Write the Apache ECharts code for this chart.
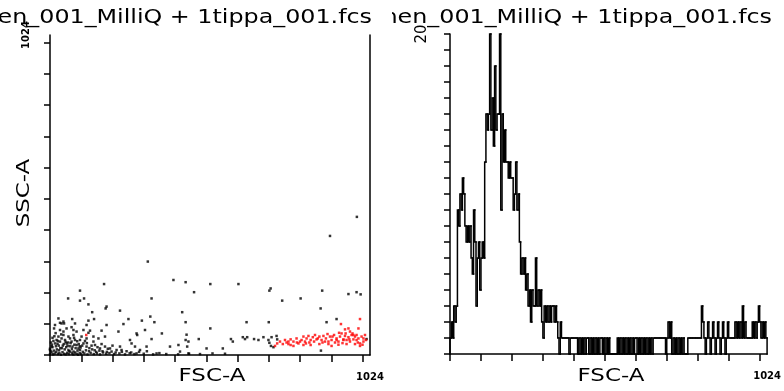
<!DOCTYPE html>
<html><head><meta charset="utf-8">
<script src="https://cdn.jsdelivr.net/npm/echarts@6/dist/echarts.min.js"></script>
<style>html,body{margin:0;padding:0;background:#fff;overflow:hidden}
#wrap{width:784px;height:391px;display:flex}
#dot,#hist{width:392px;height:391px;overflow:hidden}</style>
</head><body><div id="wrap"><div id="dot"></div><div id="hist"></div></div>
<script>
const fileName = 'Specimen_001_MilliQ + 1tippa_001.fcs';
const xAxisName = 'FSC-A';
const yAxisName = 'SSC-A';
const channelMax = 1024;
const channelTicks = [0,100,200,300,400,500,600,700,800,900,1000];
const channelLabels = [1024];
const countMax = 20;
const countTicks = [0,1,2,3,4,5,6,7,8,9,10,11,12,13,14,15,16,17,18,19,20];
const countLabels = [20];

// histogram of FSC-A, 256 bins over 0..1024
const histCounts = [
1,2,1,3,2,3,
9,8,10,9,11,10,8,
7,8,7,8,6,5,
9,7,3,6,7,4,6,7,6,
12,15,14,15,20,14,
16,13,18,14,15,15,20,9,
15,12,14,12,
12,11,12,11,
11,9,10,12,9,10,
7,5,6,5,6,4,5,
3,4,2,4,3,3,6,
3,4,3,4,
2,1,3,2,3,
2,3,2,3,3,2,3,2,
1,0,2,1,
1,1,1,1,1,0,1,1,1,1,1,1,0,
1,0,1,0,1,0,1,1,0,1,0,1,0,1,0,1,0,1,1,0,1,0,1,0,1,0,
0,0,0,0,0,
1,0,1,0,1,0,1,0,1,0,1,0,1,0,1,1,0,1,0,1,0,1,0,1,0,1,0,1,0,
1,1,1,1,1,1,1,1,1,1,
0,1,
2,1,2,
0,1,0,1,0,1,0,1,0,1,0,
0,0,
1,1,1,1,1,1,1,1,1,1,1,
3,
2,1,0,1,2,1,
0,1,
2,
1,0,1,2,1,0,1,2,1,0,
1,2,
1,1,1,1,1,
2,1,2,1,2,1,3,1,2,1,
1,1,1,1,2,1,
2,1,2,3,2,
1,2,1,2,1
];

// FSC-A / SSC-A events outside the gate (black)
const blackEvents = [
[982,442],[896,381],[313,299],[395,240],[434,233],[513,227],[603,227],[173,227],[96,206],[461,201],[706,213],[702,206],[871,206],[955,195],[981,201],[994,194],[58,181],[96,174],[109,181],[123,162],[135,137],[141,115],[123,110],[181,155],[178,149],[224,142],[251,115],[235,99],[325,181],[321,123],[294,110],[334,105],[423,137],[434,105],[513,85],[743,174],[802,181],[866,149],[885,105],[917,115],[629,105],[700,105],[27,117],[13,85],[37,101],[45,101],[71,115],[165,78],[128,78],[181,96],[219,75],[277,69],[279,64],[304,80],[325,51],[358,69],[437,65],[434,48],[443,43],[476,51],[384,27],[411,32],[439,27],[501,21],[553,21],[579,51],[585,43],[617,57],[624,51],[631,57],[653,51],[667,48],[683,57],[699,48],[702,39],[707,29],[715,25],[709,57],[725,61],[727,50],[416,11],[443,5],[867,14],[1013,51],[277,5],[341,5],
[0,16],[5,27],[16,37],[21,48],[27,59],[32,43],[37,53],[43,64],[48,48],[53,37],[59,59],[64,53],[69,43],[75,64],[80,48],[85,32],[91,21],[96,48],[101,59],[107,37],[32,80],[43,75],[53,85],[69,89],[75,80],[85,75],[59,16],[75,11],[96,16],[117,27],[117,53],[139,43],[144,32],[155,53],[160,21],[176,27],[192,21],[197,11],[213,16],[224,27],[229,16],[256,48],[261,37],[272,27],[288,16],[309,27],[16,96],[32,103],[43,107],[80,101],[117,96],[107,80],[123,71],[139,59],[176,59],
[0,3],[5,8],[10,2],[15,5],[20,10],[25,3],[30,6],[35,1],[40,9],[45,4],[50,2],[55,7],[60,3],[65,11],[70,5],[75,2],[80,8],[85,4],[90,1],[95,6],[100,3],[110,5],[120,2],[130,7],[140,3],[150,5],[160,2],[170,8],[180,4],[190,6],[205,3],[222,5],[240,2],[255,6],[270,3],[300,4],[330,2],[350,6],[372,3],[410,2],[445,4],[480,3],[520,5],[560,4],[0,20],[8,25],[12,14],[22,18],[28,30],[3,40],[8,55],[18,70],[25,45],[38,22],[44,35],[52,25],[58,40],[63,28],[70,20],[78,33],[88,14],[95,28],[105,10],[115,15],[125,12],[135,18],[148,10],[158,14],[168,12],[182,10],
[2,12],[6,33],[11,45],[14,60],[19,28],[24,36],[29,15],[33,22],[36,66],[41,30],[47,18],[50,42],[56,30],[61,12],[66,38],[72,27],[77,55],[82,22],[87,44],[92,35],[98,24],[103,30],[112,45],[118,38],[126,22],[133,30],[143,15],[152,25],[165,35],[185,20],[200,30],[210,8],[230,10],[245,12],[260,8],[285,10],[310,12]
];

// events inside the gate (red)
const redEvents = [
[720,29],[727,37],[736,43],[752,48],[763,35],[770,50],[779,43],[789,53],[795,37],[805,48],[811,59],[816,43],[821,53],[827,61],[834,48],[841,57],[848,64],[853,50],[862,59],[869,48],[875,61],[883,53],[891,43],[896,59],[901,48],[909,64],[917,53],[923,43],[928,59],[933,69],[939,50],[944,61],[949,48],[955,57],[960,43],[965,64],[971,50],[976,59],[981,48],[987,53],[992,37],[997,59],[1003,43],[1008,64],[1011,48],[891,35],[901,29],[923,33],[949,35],[976,35],[992,29],[779,29],[811,32],[834,32],[862,35],[960,75],[944,82],[992,115],[931,99],[955,85],[987,85],[971,64],[939,48],[917,48],[763,43],[745,35],[770,32],[800,43],[819,37],[845,43],[880,43],[888,67],[904,59],[925,71],[946,69],[968,69],[981,64],[1003,53],[857,53],[872,40],[912,40],[936,38],[958,50],[985,40],[1000,33],[830,40],[790,40],[757,40],[116,64]
];

// one item per bin: [start, end, count, previous bin's count]
const binWidth = channelMax / histCounts.length;
const histBins = histCounts.map((c, i) => [i * binWidth, (i + 1) * binWidth, c, i === 0 ? 0 : histCounts[i - 1]]);
histBins.push([channelMax, channelMax, 0, histCounts[histCounts.length - 1]]);

const font = 'DejaVu Sans';
const axisLineStyle = { color: '#000', width: 1.5 };
const plain = v => String(v);
function chanX() {
  return {
    type: 'value', min: 0, max: channelMax,
    axisLine: { show: true, onZero: false, lineStyle: axisLineStyle },
    axisTick: { show: true, customValues: channelTicks, length: 7, lineStyle: axisLineStyle },
    axisLabel: { show: true, customValues: channelLabels, formatter: plain, margin: 17, fontSize: 10, fontWeight: 'bold', color: '#000', fontFamily: font },
    splitLine: { show: false }
  };
}
function titleText(xRight) {
  return { type: 'text', x: xRight, y: 28, scaleX: 1.19, style: { text: fileName, fontSize: 20, fontFamily: font, fill: '#000', textAlign: 'right', textVerticalAlign: 'bottom' } };
}
function xName(xc) {
  return { type: 'text', x: xc, y: 377, scaleX: 1.35, style: { text: xAxisName, fontSize: 17, fontFamily: font, fill: '#000', textAlign: 'center', textVerticalAlign: 'middle' } };
}

const dot = echarts.init(document.getElementById('dot'), null, { renderer: 'canvas' });
dot.setOption({
  animation: false,
  backgroundColor: '#fff',
  grid: { left: 50, top: 35, width: 320, height: 320 },
  xAxis: chanX(),
  yAxis: [
    {
      type: 'value', min: 0, max: channelMax,
      axisLine: { show: true, onZero: false, lineStyle: axisLineStyle },
      axisTick: { show: true, customValues: channelTicks, length: 6, lineStyle: axisLineStyle },
      axisLabel: { show: true, customValues: channelLabels, formatter: plain, rotate: 90, margin: 19, fontSize: 10, fontWeight: 'bold', color: '#000', fontFamily: font },
      splitLine: { show: false }
    },
    {
      type: 'value', min: 0, max: channelMax, position: 'right',
      axisLine: { show: true, onZero: false, lineStyle: axisLineStyle },
      axisTick: { show: false }, axisLabel: { show: false }, splitLine: { show: false }
    }
  ],
  graphic: [
    titleText(372),
    xName(212),
    { type: 'text', x: 25, y: 193, rotation: Math.PI / 2, scaleX: 1.35, style: { text: yAxisName, fontSize: 17, fontFamily: font, fill: '#000', textAlign: 'center', textVerticalAlign: 'middle' } }
  ],
  series: [
    { type: 'scatter', symbol: 'rect', symbolSize: 2.5, itemStyle: { color: '#000' }, data: blackEvents, silent: true },
    { type: 'scatter', symbol: 'rect', symbolSize: 2.5, itemStyle: { color: '#ff0000' }, data: redEvents, silent: true }
  ]
});

const hist = echarts.init(document.getElementById('hist'), null, { renderer: 'canvas' });
hist.setOption({
  animation: false,
  backgroundColor: '#fff',
  grid: { left: 58, top: 34, width: 320, height: 320 },
  xAxis: chanX(),
  yAxis: {
    type: 'value', min: 0, max: countMax,
    axisLine: { show: true, onZero: false, lineStyle: axisLineStyle },
    axisTick: { show: true, customValues: countTicks, length: 6, lineStyle: axisLineStyle },
    axisLabel: { show: true, customValues: countLabels, formatter: plain, rotate: 90, margin: 20, fontSize: 15, color: '#000', fontFamily: font },
    splitLine: { show: false }
  },
  graphic: [ titleText(380), xName(219) ],
  series: [{
    type: 'custom',
    silent: true,
    encode: { x: [0, 1], y: [2, 3] },
    data: histBins,
    renderItem: function (params, api) {
      const prev = api.coord([api.value(0), api.value(3)]);
      const a = api.coord([api.value(0), api.value(2)]);
      const b = api.coord([api.value(1), api.value(2)]);
      return {
        type: 'polyline',
        shape: { points: [prev, a, b] },
        style: { stroke: '#000', lineWidth: 1.5, fill: null, lineCap: 'square' }
      };
    }
  }]
});
</script>
</body></html>
